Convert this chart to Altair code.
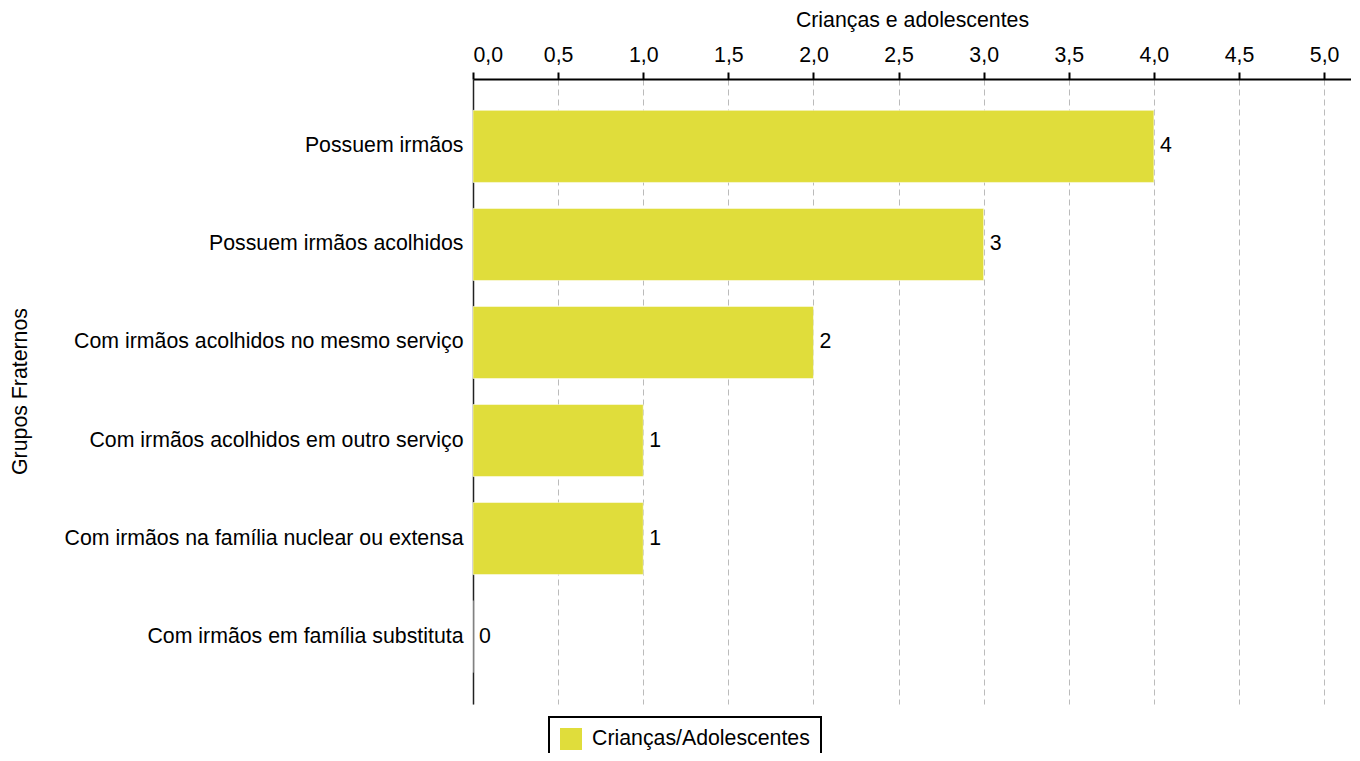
import altair as alt
import pandas as pd

categories = [
    "Possuem irmãos",
    "Possuem irmãos acolhidos",
    "Com irmãos acolhidos no mesmo serviço",
    "Com irmãos acolhidos em outro serviço",
    "Com irmãos na família nuclear ou extensa",
    "Com irmãos em família substituta",
]
values = [4, 3, 2, 1, 1, 0]
series_name = "Crianças/Adolescentes"
x_ticks = [0, 0.5, 1.0, 1.5, 2.0, 2.5, 3.0, 3.5, 4.0, 4.5, 5.0]

df = pd.DataFrame({"grupo": categories, "valor": values, "serie": [series_name] * len(values)})

FONT = "Liberation Sans"
FS = 21.3
BAR = "#e0dd3b"

base = alt.Chart(df).encode(
    y=alt.Y(
        "grupo:N",
        sort=categories,
        title="Grupos Fraternos",
        scale=alt.Scale(paddingInner=0.265, paddingOuter=0.32),
        axis=alt.Axis(
            labelFontSize=FS, labelFont=FONT, labelColor="black", labelPadding=10,
            ticks=False, domain=True, domainColor="#222222", domainWidth=1.5,
            titleFontSize=FS, titleFont=FONT, titleFontWeight="normal", titleColor="black",
            titleX=-453, titleY=312, titleAngle=-90, titleAlign="center", titleBaseline="middle",
            grid=False, labelLimit=600,
        ),
    ),
)

bars = base.mark_bar(stroke="white", strokeWidth=0.5).encode(
    x=alt.X(
        "valor:Q",
        title="Crianças e adolescentes",
        scale=alt.Scale(domain=[0, 5.158], nice=False),
        axis=alt.Axis(
            orient="top", values=x_ticks,
            labelExpr="replace(format(datum.value, '.1f'), '.', ',')",
            labelFontSize=FS, labelFont=FONT, labelColor="black", labelPadding=7,
            tickSize=7, tickWidth=2, tickColor="black",
            domainColor="black", domainWidth=2,
            grid=True, gridColor="#bbbbbb", gridDash=[6, 4], gridWidth=1,
            titleFontSize=FS, titleFont=FONT, titleFontWeight="normal", titleColor="black",
            titlePadding=14,
        ),
    ),
    color=alt.Color(
        "serie:N",
        scale=alt.Scale(domain=[series_name], range=[BAR]),
        legend=alt.Legend(
            title=None, orient="none", legendX=76, legendY=638,
            symbolType="square", symbolSize=484, symbolStrokeWidth=0,
            labelFontSize=FS, labelFont=FONT, labelColor="black", labelLimit=600,
            strokeColor="black", padding=11, symbolOffset=0, labelOffset=10,
        ),
    ),
)

labels = base.mark_text(align="left", baseline="middle", dx=6, fontSize=FS, font=FONT, color="black").encode(
    x="valor:Q",
    text="valor:Q",
)

chart = (
    alt.layer(bars, labels)
    .properties(
        width=878,
        height=625,
        autosize=alt.AutoSizeParams(type="none"),
        padding={"left": 465, "top": 71, "right": 0, "bottom": 49},
    )
    .configure_view(stroke=None)
    .configure_legend(strokeWidth=2)
)

chart.save("out.html", embed_options={"renderer": "svg", "actions": False})
